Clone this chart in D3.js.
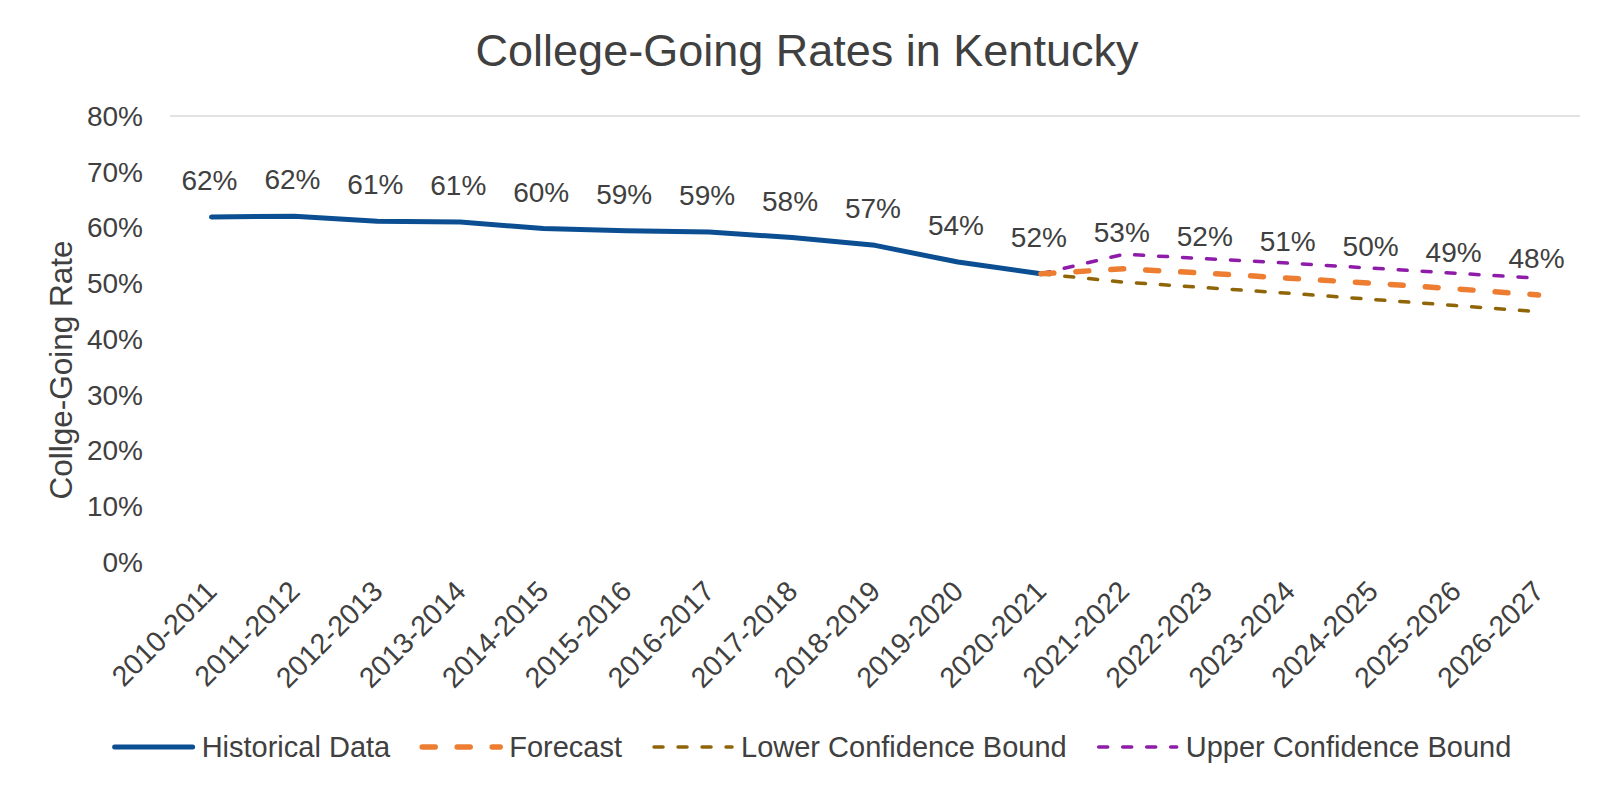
<!DOCTYPE html>
<html>
<head>
<meta charset="utf-8">
<script src="https://cdn.jsdelivr.net/npm/d3@7"></script>
<style>
    body { margin: 0; background: #ffffff; }
    text { font-family: "Liberation Sans", Arial, sans-serif; fill: #404040; }
</style>
</head>
<body>
<svg id="chart" width="1612" height="793"></svg>
<script>
const years = ["2010-2011", "2011-2012", "2012-2013", "2013-2014", "2014-2015", "2015-2016",
    "2016-2017", "2017-2018", "2018-2019", "2019-2020", "2020-2021", "2021-2022",
    "2022-2023", "2023-2024", "2024-2025", "2025-2026", "2026-2027"];
const historical = [61.9, 62.0, 61.1, 61.0, 59.8, 59.4, 59.2, 58.2, 56.8, 53.8, 51.7];
// forecast series start at the last historical year (2020-2021)
const forecastYears = years.slice(10);
const forecast = [51.7, 52.6, 51.8, 50.9, 50.0, 49.0, 47.9];
const lowerBound = [51.7, 50.2, 49.2, 48.2, 47.1, 46.0, 44.9];
const upperBound = [51.7, 55.2, 54.4, 53.6, 52.7, 51.8, 50.9];
const yTicks = [0, 10, 20, 30, 40, 50, 60, 70, 80];

const colors = {
    historical: "#0b4e91",
    forecast: "#ed7d31",
    lower: "#8f6508",
    upper: "#8f1ca8"
};

const svg = d3.select("#chart");
const plot = {left: 170, right: 1580, top: 116, bottom: 562};

const x = d3.scalePoint()
    .domain(years)
    .range([plot.left, plot.right])
    .padding(0.5);

const y = d3.scaleLinear()
    .domain([0, 80])
    .range([plot.bottom, plot.top]);

// title
svg.append("text")
    .attr("x", 807)
    .attr("y", 66)
    .attr("text-anchor", "middle")
    .style("font-size", "45px")
    .text("College-Going Rates in Kentucky");

// only the top gridline shows in the original
svg.append("line")
    .attr("x1", plot.left)
    .attr("x2", plot.right)
    .attr("y1", y(80))
    .attr("y2", y(80))
    .style("stroke", "#d9d9d9")
    .style("stroke-width", 1.5);

// y axis labels
svg.append("g")
    .selectAll("text")
    .data(yTicks)
    .enter()
    .append("text")
    .attr("x", 143)
    .attr("y", d => y(d))
    .attr("dy", "0.35em")
    .attr("text-anchor", "end")
    .style("font-size", "28px")
    .text(d => d + "%");

svg.append("text")
    .attr("transform", `translate(72,${(plot.top + plot.bottom) / 2 + 31}) rotate(-90)`)
    .attr("text-anchor", "middle")
    .style("font-size", "31.5px")
    .text("Collge-Going Rate");

// x axis labels, rotated
svg.append("g")
    .selectAll("text")
    .data(years)
    .enter()
    .append("text")
    .attr("transform", d => `translate(${x(d)},${plot.bottom + 24}) rotate(-45)`)
    .attr("text-anchor", "end")
    .attr("dy", "0.35em")
    .style("font-size", "28.5px")
    .text(d => d);

function drawSeries(cats, values, color, width, dash) {
    const line = d3.line()
        .x((d, i) => x(cats[i]))
        .y(d => y(d));
    svg.append("path")
        .datum(values)
        .attr("d", line)
        .style("fill", "none")
        .style("stroke", color)
        .style("stroke-width", width)
        .style("stroke-linecap", "round")
        .style("stroke-linejoin", "round")
        .style("stroke-dasharray", dash);
}

drawSeries(years.slice(0, historical.length), historical, colors.historical, 5, null);
drawSeries(forecastYears, lowerBound, colors.lower, 3.5, "9,15");
drawSeries(forecastYears, upperBound, colors.upper, 3.5, "9,15");
drawSeries(forecastYears, forecast, colors.forecast, 5.5, "13,22");

// data labels: historical + forecast (skipping the shared start point)
function drawLabels(cats, values) {
    svg.append("g")
        .selectAll("text")
        .data(values)
        .enter()
        .append("text")
        .attr("x", (d, i) => x(cats[i]) - 2)
        .attr("y", d => y(d) - 27)
        .attr("text-anchor", "middle")
        .style("font-size", "28px")
        .text(d => Math.round(d) + "%");
}
drawLabels(years.slice(0, historical.length), historical);
drawLabels(forecastYears.slice(1), forecast.slice(1));

// legend
const legendItems = [
    {name: "Historical Data", color: colors.historical, width: 5, dash: null},
    {name: "Forecast", color: colors.forecast, width: 5.5, dash: "13,22"},
    {name: "Lower Confidence Bound", color: colors.lower, width: 3.5, dash: "9,15"},
    {name: "Upper Confidence Bound", color: colors.upper, width: 3.5, dash: "9,15"}
];
const legend = svg.append("g");
let lx = 0;
const legendY = 747;
const gap = 30;
legendItems.forEach(item => {
    legend.append("line")
        .attr("x1", lx + 2)
        .attr("x2", lx + 80)
        .attr("y1", legendY)
        .attr("y2", legendY)
        .style("stroke", item.color)
        .style("stroke-width", item.width)
        .style("stroke-linecap", "round")
        .style("stroke-dasharray", item.dash);
    const t = legend.append("text")
        .attr("x", lx + 89)
        .attr("y", legendY)
        .attr("dy", "0.35em")
        .style("font-size", "29px")
        .text(item.name);
    lx += 89 + t.node().getComputedTextLength() + gap;
});
const legendWidth = lx - gap;
legend.attr("transform", `translate(${812 - legendWidth / 2},0)`);
</script>
</body>
</html>
